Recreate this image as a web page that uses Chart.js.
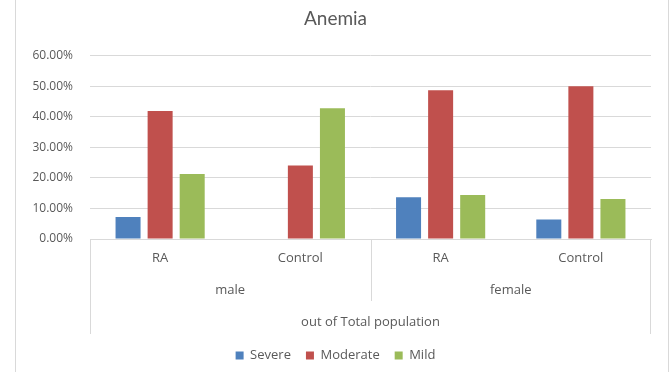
<!DOCTYPE html>
<html>
<head>
<meta charset="utf-8">
<script src="https://cdn.jsdelivr.net/npm/chart.js@4"></script>
<style>
  html, body { margin: 0; padding: 0; background: #fff; }
  #wrap { position: relative; width: 672px; height: 372px; }
  #frame { position: absolute; left: 15px; top: -1px; width: 654px; height: 380px; border: 1px solid #d9d9d9; box-sizing: border-box; }
  canvas { position: absolute; left: 0; top: 0; }
</style>
</head>
<body>
<div id="wrap">
  <div id="frame"></div>
  <canvas id="AnemiaChart" width="672" height="372"></canvas>
</div>
<script>
// values in percent
const groups = ['RA', 'Control', 'RA', 'Control'];
const sexes = ['male', 'female'];
const population = ['out of Total population'];
const severe = [7.2, 0, 13.7, 6.4];
const moderate = [41.9, 24.1, 48.7, 50.0];
const mild = [21.3, 42.8, 14.4, 13.1];

const textColor = '#595959';
const lineColor = '#d9d9d9';
const font = '"Open Sans", Lato, sans-serif';

// draws the Excel style group separators under the plot
const groupLines = {
  id: 'groupLines',
  afterDraw(chart) {
    const ctx = chart.ctx;
    const x = chart.scales.x;
    const x2 = chart.scales.x2;
    const x3 = chart.scales.x3;
    const top = chart.chartArea.bottom;
    const left = x.getPixelForValue(-0.5);
    const mid = x.getPixelForValue(1.5);
    const right = x.getPixelForValue(3.5);
    ctx.save();
    ctx.strokeStyle = lineColor;
    ctx.lineWidth = 1;
    ctx.beginPath();
    ctx.moveTo(Math.round(left) + 0.5, top);
    ctx.lineTo(Math.round(left) + 0.5, x3.bottom);
    ctx.moveTo(Math.round(right) - 0.5, top);
    ctx.lineTo(Math.round(right) - 0.5, x3.bottom);
    ctx.moveTo(Math.round(mid) + 0.5, top);
    ctx.lineTo(Math.round(mid) + 0.5, x2.bottom);
    ctx.stroke();
    ctx.restore();
  }
};

const tickFont = { family: font, size: 13 };

const ctx = document.getElementById('AnemiaChart').getContext('2d');
new Chart(ctx, {
  type: 'bar',
  data: {
    labels: groups,
    datasets: [
      { label: 'Severe', data: severe, backgroundColor: '#4f81bd' },
      { label: 'Moderate', data: moderate, backgroundColor: '#c0504d' },
      { label: 'Mild', data: mild, backgroundColor: '#9bbb59' }
    ]
  },
  options: {
    responsive: false,
    animation: false,
    categoryPercentage: 0.686,
    barPercentage: 0.78,
    layout: { padding: { left: 20, right: 21, top: 0, bottom: 0 } },
    scales: {
      y: {
        min: 0,
        max: 60,
        afterFit: s => { s.width = 70; },
        ticks: {
          stepSize: 10,
          padding: 17,
          color: textColor,
          font: { family: font, size: 12 },
          callback: v => v.toFixed(2) + '%'
        },
        grid: { color: lineColor, drawTicks: false },
        border: { display: false }
      },
      x: {
        afterFit: s => { s.height = 28; },
        ticks: { color: textColor, padding: 11, font: tickFont, maxRotation: 0 },
        grid: { display: false, drawTicks: false },
        border: { display: true, color: lineColor }
      },
      x2: {
        type: 'category',
        position: 'bottom',
        labels: sexes,
        offset: true,
        afterFit: s => { s.height = 34; },
        ticks: { color: textColor, padding: 15, font: tickFont, maxRotation: 0 },
        grid: { display: false, drawTicks: false },
        border: { display: false }
      },
      x3: {
        type: 'category',
        position: 'bottom',
        labels: population,
        offset: true,
        afterFit: s => { s.height = 33; },
        ticks: { color: textColor, padding: 13, font: tickFont, maxRotation: 0 },
        grid: { display: false, drawTicks: false },
        border: { display: false }
      }
    },
    plugins: {
      title: {
        display: true,
        text: 'Anemia',
        color: textColor,
        font: { family: 'Lato, sans-serif', size: 19, weight: 'normal' },
        padding: { top: 7, bottom: 26 }
      },
      legend: {
        position: 'bottom',
        labels: {
          color: textColor,
          boxWidth: 8,
          boxHeight: 8,
          padding: 15,
          font: tickFont
        }
      },
      tooltip: { enabled: false }
    }
  },
  plugins: [groupLines]
});
</script>
</body>
</html>
